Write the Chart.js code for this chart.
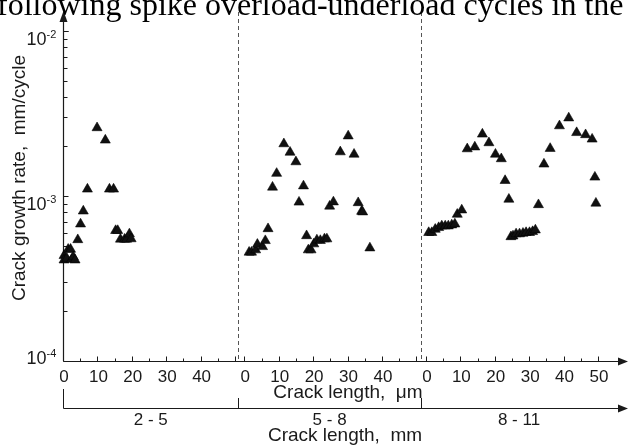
<!DOCTYPE html>
<html>
<head>
<meta charset="utf-8">
<script src="https://cdn.jsdelivr.net/npm/chart.js@4.4.1/dist/chart.umd.min.js"></script>
<style>
  html, body { margin: 0; padding: 0; background: #fff; }
  #wrap { position: relative; width: 628px; height: 448px; overflow: hidden; }
</style>
</head>
<body>
<div id="wrap"><canvas id="chart" width="628" height="448"></canvas></div>
<script>
// Crack length within each block (um) and growth rate (mm/cycle)
const seg1X = [0.3, 0.3, 1.1, 1.5, 2.2, 2.5, 3.0, 3.5, 4.3, 5.1, 5.9, 7.1, 9.9, 12.3, 13.5, 14.7, 15.3, 15.9, 16.7, 17.9, 18.5, 19.3, 19.8];
const seg1Y = [4.35e-4, 4.09e-4, 4.19e-4, 4.75e-4, 4.75e-4, 4.13e-4, 4.28e-4, 4.09e-4, 5.43e-4, 6.76e-4, 8.1e-4, 1.10e-3, 2.59e-3, 2.18e-3, 1.10e-3, 1.10e-3, 6.17e-4, 6.17e-4, 5.47e-4, 5.47e-4, 5.47e-4, 5.89e-4, 5.5e-4];

const seg2X = [1.4, 2.1, 3.3, 3.8, 5.3, 6.1, 6.9, 8.2, 9.4, 11.5, 13.3, 15.0, 15.9, 17.2, 18.1, 18.6, 19.4, 20.2, 21.1, 22.1, 23.3, 24.0, 24.8, 25.9, 27.9, 30.2, 31.9, 33.1, 34.1, 34.4, 36.5];
const seg2Y = [4.56e-4, 4.56e-4, 4.71e-4, 5.09e-4, 4.93e-4, 5.36e-4, 6.33e-4, 1.13e-3, 1.37e-3, 2.07e-3, 1.84e-3, 1.61e-3, 9.17e-4, 1.15e-3, 5.74e-4, 4.71e-4, 4.71e-4, 5.12e-4, 5.41e-4, 5.37e-4, 5.49e-4, 5.49e-4, 8.67e-4, 9.2e-4, 1.85e-3, 2.31e-3, 1.79e-3, 9.1e-4, 8.07e-4, 8.0e-4, 4.84e-4];

const seg3X = [0.8, 1.7, 2.7, 3.7, 4.6, 5.6, 6.5, 7.5, 8.4, 9.1, 10.4, 12.0, 14.2, 16.4, 18.3, 20.2, 21.9, 23.0, 24.1, 24.7, 25.3, 26.2, 27.2, 28.2, 29.1, 30.1, 31.0, 31.8, 32.7, 34.3, 36.1, 38.8, 41.5, 43.8, 46.4, 48.3, 49.1, 49.4];
const seg3Y = [6.0e-4, 6.0e-4, 6.28e-4, 6.43e-4, 6.58e-4, 6.58e-4, 6.58e-4, 6.67e-4, 6.76e-4, 7.74e-4, 8.22e-4, 1.93e-3, 1.98e-3, 2.37e-3, 2.10e-3, 1.79e-3, 1.68e-3, 1.24e-3, 9.55e-4, 5.66e-4, 5.72e-4, 5.89e-4, 5.89e-4, 5.94e-4, 6.0e-4, 6.0e-4, 6.08e-4, 6.22e-4, 8.85e-4, 1.56e-3, 1.94e-3, 2.66e-3, 2.97e-3, 2.42e-3, 2.35e-3, 2.21e-3, 1.30e-3, 9.04e-4];

// block layout along the shared x axis
const segLabels = ['2 - 5', '5 - 8', '8 - 11'];
const segOffsets = [0, 52.7, 105.5];
const segDividers = [51, 104];
const umTicks = [0, 5, 10, 15, 20, 25, 30, 35, 40, 45, 50];
const umTickLabels = [['0', '10', '20', '30', '40'], ['0', '10', '20', '30', '40'], ['0', '10', '20', '30', '40', '50']];
const yTicks = [1e-2, 1e-3, 1e-4];
const yTickExp = ['-2', '-3', '-4'];

const headText = 'following spike overload-underload cycles in the';
const yTitle = 'Crack growth rate,  mm/cycle';
const umTitle = 'Crack length,  \u03bcm';
const mmTitle = 'Crack length,  mm';

const SANS = '"Liberation Sans", Arial, sans-serif';
const INK = '#1a1a1a';

const toPoints = (xs, ys, off) => xs.map((x, i) => ({ x: x + off, y: ys[i] }));

const axesPlugin = {
  id: 'axes',
  beforeDatasetsDraw(chart) {
    const { ctx, chartArea: a, scales: { x, y } } = chart;
    ctx.save();
    ctx.strokeStyle = INK;
    ctx.fillStyle = INK;
    ctx.lineWidth = 1.2;

    // dashed block dividers
    ctx.save();
    ctx.strokeStyle = '#555';
    ctx.lineWidth = 1;
    ctx.setLineDash([4, 3]);
    segDividers.forEach((d) => {
      const px = Math.round(x.getPixelForValue(d)) + 0.5;
      ctx.beginPath();
      ctx.moveTo(px, 12);
      ctx.lineTo(px, a.bottom - 2);
      ctx.stroke();
    });
    ctx.restore();

    // y axis with arrow
    const x0 = Math.round(a.left) + 0.5;
    ctx.beginPath();
    ctx.moveTo(x0, a.bottom);
    ctx.lineTo(x0, 20);
    ctx.stroke();
    ctx.beginPath();
    ctx.moveTo(x0, 11);
    ctx.lineTo(x0 - 4, 22);
    ctx.lineTo(x0 + 4, 22);
    ctx.closePath();
    ctx.fill();

    // x axis with arrow
    const y0 = Math.round(a.bottom) + 0.5;
    ctx.beginPath();
    ctx.moveTo(x0, y0);
    ctx.lineTo(620, y0);
    ctx.stroke();
    ctx.beginPath();
    ctx.moveTo(628, y0);
    ctx.lineTo(618, y0 - 4);
    ctx.lineTo(618, y0 + 4);
    ctx.closePath();
    ctx.fill();

    // y ticks: decades and minor 2..9
    ctx.lineWidth = 1;
    for (let e = -4; e < -1; e++) {
      for (let m = 1; m <= 9; m++) {
        const v = m * Math.pow(10, e);
        const py = Math.round(y.getPixelForValue(v)) + 0.5;
        ctx.beginPath();
        ctx.moveTo(x0, py);
        ctx.lineTo(x0 + (m === 1 ? 5 : 4), py);
        ctx.stroke();
      }
    }
    const pyTop = Math.round(y.getPixelForValue(1e-2)) + 0.5;
    ctx.beginPath();
    ctx.moveTo(x0, pyTop);
    ctx.lineTo(x0 + 5, pyTop);
    ctx.stroke();

    // y tick labels 10^n
    yTicks.forEach((v, i) => {
      const py = y.getPixelForValue(v);
      const top = i === yTicks.length - 1 ? py - 10 : py + 1;
      ctx.font = `18px ${SANS}`;
      ctx.textAlign = 'right';
      ctx.textBaseline = 'alphabetic';
      ctx.fillText('10', 46.5, top + 13);
      ctx.font = `11px ${SANS}`;
      ctx.textAlign = 'left';
      ctx.fillText(yTickExp[i], 46.5, top + 6);
    });

    // x ticks for each block
    ctx.font = `17px ${SANS}`;
    ctx.textAlign = 'center';
    segOffsets.forEach((off, s) => {
      umTicks.forEach((t) => {
        const px = Math.round(x.getPixelForValue(off + t)) + 0.5;
        const major = t % 10 === 0;
        ctx.beginPath();
        ctx.moveTo(px, y0);
        ctx.lineTo(px, y0 - (major ? 5 : 3));
        ctx.stroke();
      });
      umTickLabels[s].forEach((lbl) => {
        const px = x.getPixelForValue(off + Number(lbl));
        ctx.fillText(lbl, px + 1, 382);
      });
    });

    // second axis: crack length in mm
    const y2 = 408.5;
    ctx.lineWidth = 1.2;
    ctx.beginPath();
    ctx.moveTo(x0, y2);
    ctx.lineTo(620, y2);
    ctx.stroke();
    ctx.beginPath();
    ctx.moveTo(628, y2);
    ctx.lineTo(618, y2 - 4);
    ctx.lineTo(618, y2 + 4);
    ctx.closePath();
    ctx.fill();
    ctx.lineWidth = 1;
    ctx.beginPath();
    ctx.moveTo(x0, y2);
    ctx.lineTo(x0, 389);
    segDividers.forEach((d) => {
      const px = Math.round(x.getPixelForValue(d)) + 0.5;
      ctx.moveTo(px, y2);
      ctx.lineTo(px, 398);
    });
    ctx.stroke();

    const bounds = [0, ...segDividers, x.max];
    segLabels.forEach((lbl, i) => {
      const mid = (x.getPixelForValue(bounds[i]) + x.getPixelForValue(bounds[i + 1])) / 2;
      ctx.fillText(lbl, i === 2 ? mid - 2 : mid, 425);
    });

    // titles
    ctx.font = `19px ${SANS}`;
    ctx.fillText(umTitle, 348, 398);
    ctx.fillText(mmTitle, 345, 441);

    ctx.save();
    ctx.translate(25, 178);
    ctx.rotate(-Math.PI / 2);
    ctx.fillText(yTitle, 0, 0);
    ctx.restore();

    // cut-off sentence from the page above
    ctx.font = '32px "Liberation Serif", "Times New Roman", serif';
    ctx.textAlign = 'left';
    ctx.fillStyle = '#000';
    ctx.fillText(headText, -3, 15);

    ctx.restore();
  }
};

const markerStyle = {
  pointStyle: 'triangle',
  pointRadius: 5.8,
  pointHoverRadius: 5.8,
  backgroundColor: '#111',
  borderColor: 'rgba(0,0,0,0.55)',
  borderWidth: 1,
  clip: false,
};

new Chart(document.getElementById('chart'), {
  type: 'scatter',
  data: {
    datasets: [
      { label: segLabels[0], data: toPoints(seg1X, seg1Y, segOffsets[0]), ...markerStyle },
      { label: segLabels[1], data: toPoints(seg2X, seg2Y, segOffsets[1]), ...markerStyle },
      { label: segLabels[2], data: toPoints(seg3X, seg3Y, segOffsets[2]), ...markerStyle },
    ]
  },
  options: {
    responsive: false,
    devicePixelRatio: 1,
    animation: false,
    events: [],
    layout: { padding: { left: 63, right: 2, top: 31, bottom: 87 } },
    plugins: { legend: { display: false }, tooltip: { enabled: false } },
    scales: {
      x: { type: 'linear', min: 0, max: 162.25, display: false },
      y: { type: 'logarithmic', min: 1e-4, max: 1e-2, display: false }
    }
  },
  plugins: [axesPlugin]
});
</script>
</body>
</html>
